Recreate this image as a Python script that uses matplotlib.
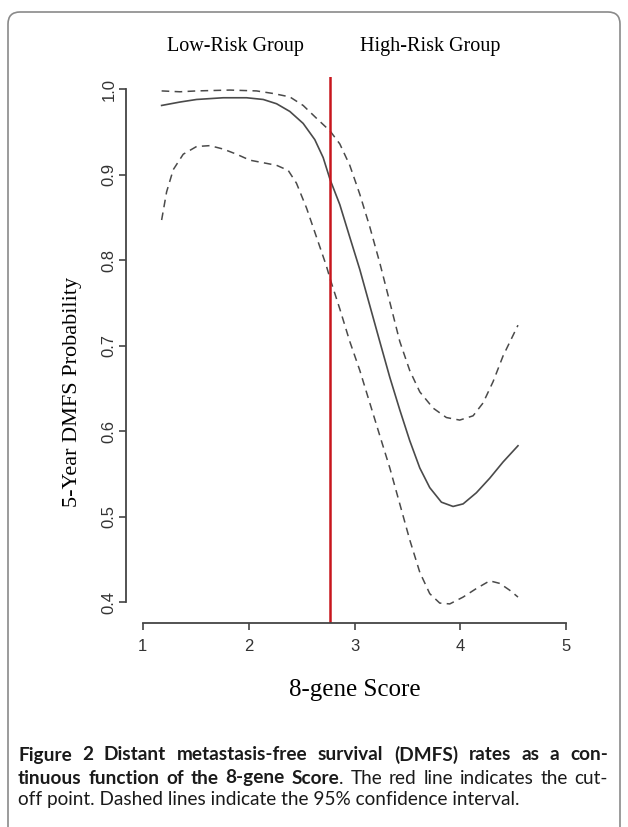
import matplotlib
matplotlib.use("Agg")
import matplotlib.pyplot as plt
from matplotlib.patches import FancyBboxPatch
from matplotlib.transforms import IdentityTransform

# score values and 5-year DMFS probability
solid_x = [1.179, 1.352, 1.509, 1.760, 1.981, 2.138, 2.264, 2.389, 2.515, 2.625,
           2.704, 2.770, 2.861, 2.955, 3.050, 3.144, 3.238, 3.333, 3.427, 3.521,
           3.616, 3.710, 3.820, 3.930, 4.025, 4.150, 4.276, 4.402, 4.543]
solid_y = [0.981, 0.985, 0.988, 0.990, 0.990, 0.988, 0.983, 0.974, 0.960, 0.941,
           0.920, 0.894, 0.865, 0.827, 0.789, 0.747, 0.705, 0.663, 0.625, 0.589,
           0.557, 0.534, 0.517, 0.512, 0.515, 0.528, 0.545, 0.564, 0.583]

upper_x = [1.179, 1.352, 1.509, 1.823, 2.075, 2.232, 2.389, 2.515, 2.641, 2.770,
           2.861, 2.955, 3.050, 3.144, 3.238, 3.333, 3.427, 3.521, 3.616, 3.742,
           3.867, 3.993, 4.119, 4.213, 4.308, 4.402, 4.543]
upper_y = [0.998, 0.997, 0.998, 0.999, 0.998, 0.995, 0.991, 0.981, 0.966, 0.951,
           0.936, 0.911, 0.877, 0.839, 0.797, 0.751, 0.705, 0.671, 0.646, 0.627,
           0.616, 0.613, 0.618, 0.633, 0.658, 0.688, 0.724]

lower_x = [1.179, 1.226, 1.289, 1.383, 1.509, 1.635, 1.760, 1.886, 2.012, 2.138,
           2.264, 2.374, 2.452, 2.547, 2.641, 2.735, 2.770, 2.861, 2.955, 3.050,
           3.144, 3.238, 3.333, 3.427, 3.521, 3.616, 3.710, 3.804, 3.899, 4.025,
           4.150, 4.276, 4.371, 4.465, 4.543]
lower_y = [0.847, 0.880, 0.906, 0.924, 0.933, 0.934, 0.930, 0.924, 0.917, 0.914,
           0.911, 0.905, 0.890, 0.861, 0.827, 0.793, 0.778, 0.743, 0.705, 0.671,
           0.633, 0.595, 0.557, 0.515, 0.473, 0.435, 0.410, 0.399, 0.398, 0.406,
           0.416, 0.425, 0.422, 0.414, 0.406]

cutoff = 2.77
x_ticks = [1, 2, 3, 4, 5]
y_ticks = [0.4, 0.5, 0.6, 0.7, 0.8, 0.9, 1.0]

fig = plt.figure(figsize=(6.28, 8.27), dpi=100)
ax = fig.add_axes([0.2002, 0.2470, 0.7287, 0.6596])

curve_col = "#4a4a4a"
ax.plot(solid_x, solid_y, color=curve_col, lw=1.2)
ax.plot(upper_x, upper_y, color=curve_col, lw=1.1, ls=(0, (5, 3.5)))
ax.plot(lower_x, lower_y, color=curve_col, lw=1.1, ls=(0, (5, 3.5)))
ax.axvline(cutoff, color="#c8161d", lw=1.8)

ax.set_xlim(0.84, 5.16)
ax.set_ylim(0.376, 1.014)

# R style axes: only left and bottom, spanning the ticks
for s in ["top", "right"]:
    ax.spines[s].set_visible(False)
ax.spines["left"].set_bounds(0.4, 1.0)
ax.spines["bottom"].set_bounds(1, 5)
for s in ["left", "bottom"]:
    ax.spines[s].set_color("#444444")
    ax.spines[s].set_linewidth(1.3)

ax.set_xticks(x_ticks)
ax.set_xticklabels([str(t) for t in x_ticks])
ax.set_yticks(y_ticks)
ax.set_yticklabels([f"{t:.1f}" for t in y_ticks], rotation=90, va="center")
ax.tick_params(axis="both", length=5, width=1.2, color="#444444",
               labelcolor="#333333", labelsize=12)
ax.tick_params(axis="x", pad=7)
ax.tick_params(axis="y", pad=1.5)
for lab in ax.get_xticklabels() + ax.get_yticklabels():
    lab.set_fontfamily("Liberation Sans")

serif = "Liberation Serif"
ax.set_xlabel("8-gene Score", fontsize=18, family=serif, labelpad=18)
ax.set_ylabel("5-Year DMFS Probability", fontsize=16, family=serif)
ax.yaxis.set_label_coords(-0.0955, 0.423)

fig.text(235 / 628, 1 - 47 / 827, "Low-Risk Group", fontsize=14.5, family=serif,
         ha="center", va="center")
fig.text(430 / 628, 1 - 47 / 827, "High-Risk Group", fontsize=14.5, family=serif,
         ha="center", va="center")

# rounded frame round the figure
frame = FancyBboxPatch((8, -20), 612, 835, boxstyle="round,pad=0,rounding_size=12",
                       transform=IdentityTransform(), fill=False,
                       edgecolor="#8a8a8a", lw=1.2)
fig.add_artist(frame)

# caption: justified lines made of (word, weight, space before) tokens
cap_font = "Lato"
renderer = fig.canvas.get_renderer()
B, R = "bold", "normal"
line1 = [(w, B, True) for w in
         "Figure 2 Distant metastasis-free survival (DMFS) rates as a con-".split()]
line2 = ([(w, B, True) for w in "tinuous function of the 8-gene Score".split()]
         + [(".", R, False)]
         + [(w, R, True) for w in "The red line indicates the cut-".split()])
line3 = "off point. Dashed lines indicate the 95% confidence interval."

# pick the size so the last (left aligned) line has the reference width
probe = fig.text(0, 0, line3, fontsize=10, family=cap_font)
w10 = probe.get_window_extent(renderer).width
probe.remove()
cap_size = 10 * 502 / w10

left, right = 18, 608
for ypix, tokens in [(755, line1), (778, line2)]:
    texts = []
    widths = []
    for word, weight, _ in tokens:
        t = fig.text(0, 1 - ypix / 827, word, fontsize=cap_size, family=cap_font,
                     fontweight=weight, va="center", ha="left", color="#1a1a1a")
        texts.append(t)
        widths.append(t.get_window_extent(renderer).width)
    n_gaps = sum(1 for tok in tokens[1:] if tok[2])
    gap = (right - left - sum(widths)) / n_gaps
    xpix = left
    for i, (t, tok) in enumerate(zip(texts, tokens)):
        if i > 0 and tok[2]:
            xpix += gap
        t.set_x(xpix / 628)
        xpix += widths[i]

fig.text(left / 628, 1 - 800 / 827, line3, fontsize=cap_size, family=cap_font,
         va="center", ha="left", color="#1a1a1a")

fig.savefig("out.png", dpi=100)
